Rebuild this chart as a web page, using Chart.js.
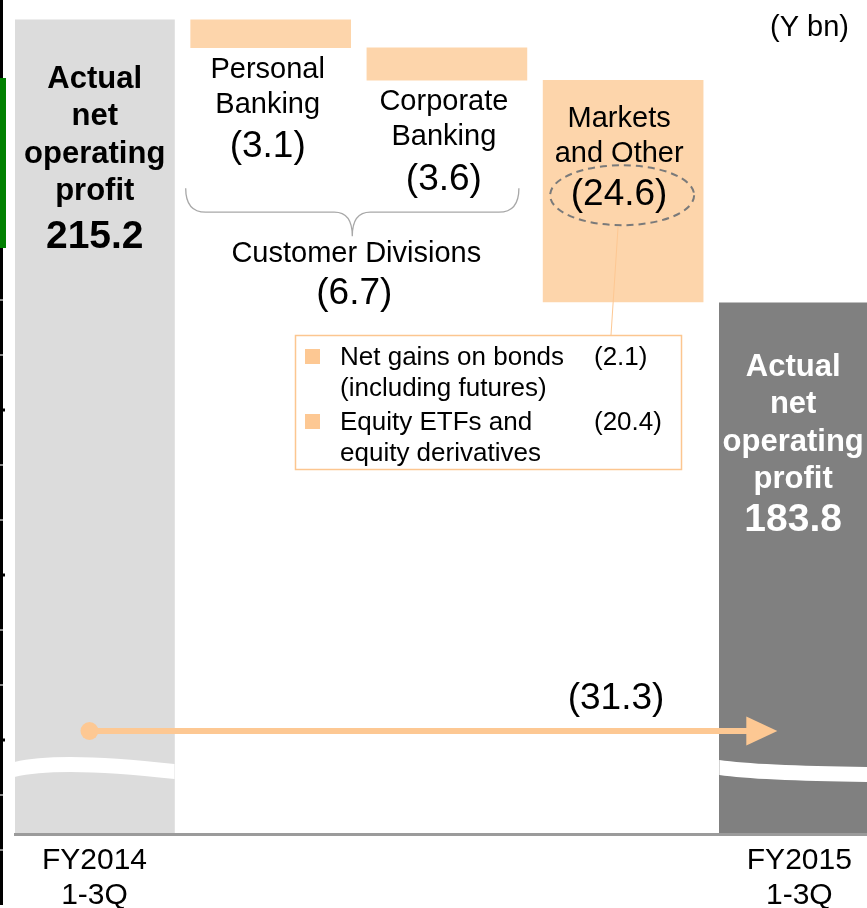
<!DOCTYPE html>
<html>
<head>
<meta charset="utf-8">
<title>Net operating profit bridge</title>
<script src="https://cdn.jsdelivr.net/npm/chart.js@4.4.1/dist/chart.umd.min.js"></script>
<style>
  html, body { margin: 0; padding: 0; background: #fff; overflow: hidden; }
  canvas { display: block; }
</style>
</head>
<body>
<canvas id="bridge" width="867" height="908"></canvas>
<script>
// values in Y bn
const categories = ['FY2014 1-3Q', 'Personal Banking', 'Corporate Banking', 'Markets and Other', 'FY2015 1-3Q']
const startTotal = 215.2
const endTotal = 183.8
const divisionChanges = [-3.1, -3.6, -24.6]
const totalChange = -31.3
const marketsBreakdown = [-2.1, -20.4]
const breakdownLabels = [['Net gains on bonds', '(including futures)'], ['Equity ETFs and', 'equity derivatives']]
const xTickLabels = [['FY2014', '1-3Q'], ['FY2015', '1-3Q']]
const barLabels = [
  ['Actual', 'net', 'operating', 'profit'],
  ['Personal', 'Banking'],
  ['Corporate', 'Banking'],
  ['Markets', 'and Other'],
  ['Actual', 'net', 'operating', 'profit']
]
const groupLabel = 'Customer Divisions'
const unitLabel = '(Y bn)'
// broken axis: total bars run down to the floor
const axisFloor = 124.9
const axisTop = 215.4

const FAMILY = '"Liberation Sans", Arial, sans-serif'
const PEACH = '#fdd5ab'
const ORANGE = '#fdc893'

const fmt = v => '(' + Math.abs(v).toFixed(1) + ')'

// waterfall: floating bars
let running = startTotal
const bars = [{ x: 0, y: [axisFloor, startTotal] }]
divisionChanges.forEach((c, i) => {
  bars.push({ x: i + 1, y: [running + c, running] })
  running += c
})
bars.push({ x: categories.length - 1, y: [axisFloor, endTotal] })

// canvas 'middle' sits a little high for this face, nudge down
const text = (c, str, x, y, size, opts = {}) => {
  c.font = (opts.bold ? 'bold ' : '') + size + 'px ' + FAMILY
  c.fillStyle = opts.color || '#000'
  c.textAlign = opts.align || 'center'
  c.textBaseline = 'middle'
  c.fillText(str, x, y + 2.5)
}

const pageEdge = {
  id: 'pageEdge',
  beforeDraw(chart) {
    const c = chart.ctx
    c.save()
    c.fillStyle = '#fff'
    c.fillRect(0, 0, chart.width, chart.height)
    c.fillStyle = '#000'
    c.fillRect(0, 0, 3, 905)
    for (let y = 300, k = 0; y < 905; y += 55, k++) {
      if (k % 3 === 2) {
        c.fillStyle = '#000'
        c.fillRect(0, y - 1.5, 5, 3)
      } else {
        c.fillStyle = '#8c8c8c'
        c.fillRect(0, y - 1, 3, 2)
      }
    }
    c.fillStyle = '#008000'
    c.fillRect(0, 78, 6, 170)
    c.restore()
  }
}

const bridgeNotes = {
  id: 'bridgeNotes',
  afterDatasetsDraw(chart) {
    const c = chart.ctx
    const els = chart.getDatasetMeta(0).data
    const area = chart.chartArea
    const box = el => {
      const top = Math.min(el.y, el.base), bottom = Math.max(el.y, el.base)
      const left = el.x - el.width / 2, right = el.x + el.width / 2
      return { top, bottom, left, right }
    }
    c.save()

    // axis break waves on the two totals
    const waves = [[762, 45, 751, 764], [760, 41, 766, 767]]
    ;[0, els.length - 1].forEach((idx, n) => {
      const b = box(els[idx])
      const [y0, cx, cy, y1] = waves[n]
      const t = 15
      c.beginPath()
      c.moveTo(b.left, y0)
      c.quadraticCurveTo(b.left + cx, cy, b.right, y1)
      c.lineTo(b.right, y1 + t)
      c.quadraticCurveTo(b.left + cx, cy + t, b.left, y0 + t)
      c.closePath()
      c.fillStyle = '#fff'
      c.fill()
    })

    // totals
    const totals = [startTotal, endTotal]
    ;[0, els.length - 1].forEach((idx, n) => {
      const b = box(els[idx])
      const cx = (Math.max(b.left, area.left) + Math.min(b.right, chart.width)) / 2
      const color = n === 0 ? '#000' : '#fff'
      const start = n === 0 ? 57 : 62
      barLabels[idx].forEach((s, k) => text(c, s, cx, b.top + start + k * 37.5, 31, { bold: true, color }))
      text(c, totals[n].toFixed(1), cx, b.top + 215, 39, { bold: true, color })
    })

    // customer divisions, labels under the bars
    ;[1, 2].forEach(idx => {
      const b = box(els[idx])
      const cx = els[idx].x - 3
      barLabels[idx].forEach((s, k) => text(c, s, cx, b.bottom + 19.5 + k * 35, 29))
      text(c, fmt(divisionChanges[idx - 1]), cx, b.bottom + 97, 37)
    })

    // brace over the two customer divisions
    const b1 = box(els[1]), b2 = box(els[2])
    const L = b1.left - 5, R = b2.right - 8, mid = (L + R) / 2
    const topY = b2.bottom + 108, midY = b2.bottom + 132, tipY = b2.bottom + 156
    c.beginPath()
    c.moveTo(L, topY)
    c.quadraticCurveTo(L, midY, L + 20, midY)
    c.lineTo(mid - 18, midY)
    c.quadraticCurveTo(mid, midY, mid, tipY)
    c.quadraticCurveTo(mid, midY, mid + 18, midY)
    c.lineTo(R - 20, midY)
    c.quadraticCurveTo(R, midY, R, topY)
    c.strokeStyle = '#a8a8a8'
    c.lineWidth = 1.3
    c.stroke()
    text(c, groupLabel, mid + 4, tipY + 15, 29)
    text(c, fmt(divisionChanges[0] + divisionChanges[1]), mid + 2, tipY + 55, 37)

    // markets and other, label inside the bar
    const b3 = box(els[3])
    const mx = els[3].x - 4
    barLabels[3].forEach((s, k) => text(c, s, mx, b3.top + 36.5 + k * 35, 29))
    const numY = b3.top + 112
    text(c, fmt(divisionChanges[2]), mx, numY, 37)
    c.beginPath()
    c.ellipse(els[3].x - 1, numY + 3, 72, 30, 0, 0, Math.PI * 2)
    c.setLineDash([7, 5])
    c.strokeStyle = '#7a7a7a'
    c.lineWidth = 2
    c.stroke()
    c.setLineDash([])

    // breakdown call-out
    c.beginPath()
    c.moveTo(els[3].x - 5, numY + 34)
    c.lineTo(611, 335)
    c.strokeStyle = ORANGE
    c.lineWidth = 1
    c.stroke()
    c.strokeStyle = '#fcc690'
    c.lineWidth = 1.5
    c.strokeRect(295.5, 335.5, 386, 134)
    breakdownLabels.forEach((lines, k) => {
      const y = 355 + k * 65
      c.fillStyle = ORANGE
      c.fillRect(305, y - 6, 15, 15)
      lines.forEach((s, j) => text(c, s, 340, y + j * 31.5, 26, { align: 'left' }))
      text(c, fmt(marketsBreakdown[k]), 594, y, 26, { align: 'left' })
    })

    // overall change arrow
    const ay = 731
    const x0 = els[0].x - 5, x1 = els[els.length - 1].x - 22
    c.fillStyle = ORANGE
    c.strokeStyle = ORANGE
    c.beginPath()
    c.arc(x0, ay, 9, 0, Math.PI * 2)
    c.fill()
    c.lineWidth = 6
    c.beginPath()
    c.moveTo(x0, ay)
    c.lineTo(x1 - 28, ay)
    c.stroke()
    c.beginPath()
    c.moveTo(x1 - 31, ay - 14.5)
    c.lineTo(x1, ay)
    c.lineTo(x1 - 31, ay + 14.5)
    c.closePath()
    c.fill()
    text(c, fmt(totalChange), 616, 696, 37)

    text(c, unitLabel, 849, 25, 29, { align: 'right' })
    c.restore()
  }
}

new Chart(document.getElementById('bridge'), {
  type: 'bar',
  data: {
    labels: categories,
    datasets: [{
      data: bars,
      backgroundColor: ['#dcdcdc', PEACH, PEACH, PEACH, '#808080'],
      borderWidth: 0,
      barThickness: 160
    }]
  },
  options: {
    responsive: false,
    animation: false,
    events: [],
    layout: { padding: { top: 18, left: 15, right: 0, bottom: 0 } },
    plugins: {
      legend: { display: false },
      tooltip: { enabled: false }
    },
    scales: {
      x: {
        type: 'linear',
        offset: false,
        min: -0.451,
        max: 4.384,
        grid: { display: false, drawTicks: false, offset: false },
        border: { display: true, color: '#9b9b9b', width: 3, z: 1 },
        afterBuildTicks: s => { s.ticks = [{ value: 0 }, { value: categories.length - 1 }] },
        afterFit: s => { s.height = 74 },
        ticks: {
          autoSkip: false,
          maxRotation: 0,
          padding: 9,
          color: '#000',
          font: { family: FAMILY, size: 30, lineHeight: 1.17 },
          callback: v => (v === 0 ? xTickLabels[0] : xTickLabels[1])
        }
      },
      y: {
        display: false,
        min: axisFloor,
        max: axisTop
      }
    }
  },
  plugins: [pageEdge, bridgeNotes]
})
</script>
</body>
</html>
